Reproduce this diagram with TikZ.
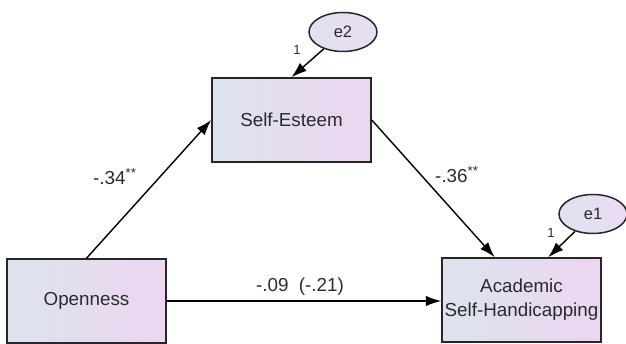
\documentclass[tikz,border=0pt]{standalone}
\usepackage{fontspec}
\setmainfont{Liberation Sans}
\usetikzlibrary{arrows.meta}
\usetikzlibrary{calc}
\usetikzlibrary{shapes.geometric}
\definecolor{varleft}{HTML}{DCE3ED}
\definecolor{varright}{HTML}{EDD6F1}
\definecolor{errleft}{HTML}{E0E0F0}
\definecolor{errright}{HTML}{EBDDF3}
\definecolor{txtgrey}{HTML}{2A2A30}

\begin{document}
\begin{tikzpicture}[
  obsvar/.style={rectangle,draw=black!85,line width=0.85pt,left color=varleft,right color=varright,
    minimum width=3.18cm,minimum height=1.68cm,inner sep=0pt,align=center,text=txtgrey,
    font=\fontsize{10.7}{13.7}\selectfont},
  errvar/.style={ellipse,draw=black!85,line width=0.85pt,left color=errleft,right color=errright,
    minimum width=1.36cm,minimum height=0.78cm,inner sep=0pt,text=txtgrey,
    font=\fontsize{9.4}{11}\selectfont},
  effect/.style={-{Latex[length=0.31cm,width=0.21cm]},line width=0.8pt,black},
  coef/.style={text=txtgrey,font=\fontsize{10.7}{12}\selectfont},
  weight/.style={text=txtgrey,font=\fontsize{7.5}{8}\selectfont}
]
\useasboundingbox (0,0) rectangle (12.52,6.88);

% variables
\node[obsvar] (open) at (1.73,0.86) {Openness};
\node[obsvar] (esteem) at (5.83,4.48) {Self-Esteem};
\node[obsvar] (handicap) at (10.43,0.88) {Academic\\Self-Handicapping};
\node[errvar] (e2) at (6.86,6.24) {e2};
\node[errvar] (e1) at (11.86,2.60) {e1};

% entry points on top of the outcome box
\coordinate (hin) at ($(handicap.north west)!0.333!(handicap.north east)$);
\coordinate (ein) at ($(handicap.north west)!0.667!(handicap.north east)$);

% paths
\draw[effect] (open.north) -- (esteem.west);
\draw[effect] (esteem.east) -- (hin);
\draw[effect] (open.east) -- (open.east -| handicap.west);
\draw[effect] (e2) -- (esteem.north);
\draw[effect] (e1) -- (ein);

% coefficients
\node[coef] (c34) at (2.30,3.34) {-.34\textsuperscript{**}};
\node[coef] (c36) at (9.14,3.38) {-.36\textsuperscript{**}};
\node[coef] (c09) at (6.00,1.14) {-.09\ \ (-.21)};
\node[weight] (w2) at (5.94,5.88) {1};
\node[weight] (w1) at (11.02,2.22) {1};

\end{tikzpicture}
\end{document}
